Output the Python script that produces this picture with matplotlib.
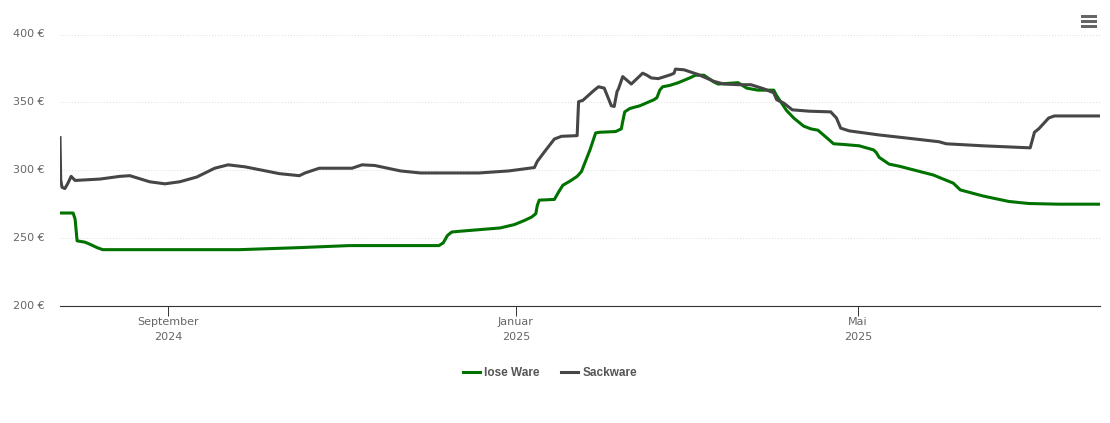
import matplotlib
matplotlib.use("Agg")
import matplotlib.pyplot as plt
from matplotlib.patches import Rectangle
from matplotlib.transforms import ScaledTranslation
import pandas as pd

START = pd.Timestamp("2024-07-25")

# days since START, price in euro
lose_days = [0, 4.6, 5.3, 6, 8.8, 10.5, 13, 15, 63, 84, 101.5, 133, 134.5, 136, 137.5, 140, 154.5,
             159.5, 163, 165.5, 167, 167.5, 168.2, 173.5, 175, 176.5, 179, 181.5, 183, 186, 188, 189.5, 195, 197, 197.5, 198.2,
             200, 203.5, 208.5, 209.5, 210.5, 211.5, 214, 217, 221, 223, 226, 229.5, 231, 238, 241,
             245, 250.5, 251.5, 255, 257.5, 261, 263.5, 266, 268.5, 271.5, 275, 280.5, 285.5, 286.5, 287.5,
             291, 294.5, 306.5, 313.5, 316, 324, 333, 340, 350.5, 364.5]
lose_vals = [268.5, 268.5, 264, 248, 247, 245.5, 243, 241.5, 241.5, 243, 244.5, 244.5, 246.5, 252, 254.5, 255, 257.5,
             260, 263, 265.5, 268, 274, 278, 278.5, 284, 289, 292, 295.5, 299, 315, 327.5, 328, 328.5, 330.5, 336, 343,
             345.5, 347.5, 352, 353.5, 359, 361.5, 362.5, 364.5, 368, 370, 370, 365, 363.5, 364.5, 360.5,
             359, 359, 355, 344, 338.5, 332.5, 330.5, 329.5, 325, 319.5, 319, 318, 315, 313, 309.5,
             304.5, 303, 296.5, 290.5, 285.5, 281, 277, 275.5, 275, 275]

sack_days = [0, 0.25, 0.7, 1.7, 2.8, 3.9, 5.3, 14, 21, 24.5, 31.5, 36.8, 42, 48, 54.3, 59, 65,
             77, 84, 86, 91, 102.5, 106, 110.5, 119.5, 126.5, 147, 157.5, 166.5, 167.5, 170,
             173.5, 176, 181.5, 182, 183.5, 187.5, 189, 191, 193.5, 194.5, 195.5, 196, 197.5,
             200.5, 204.5, 206, 207.5, 210, 214.5, 215.5, 216, 219, 224, 229.5, 233, 238.5,
             242.5, 247, 250.5, 251.5, 254, 257, 263, 270.5, 272.5, 274, 277, 287.5, 296,
             308.5, 311, 324, 340.5, 342, 343.5, 347, 349, 364.5]
sack_vals = [324, 293, 287.5, 286.5, 290.5, 295.5, 292.5, 293.5, 295.5, 296, 291.5, 290, 291.5, 295, 301.5, 304, 302.5,
             297.5, 296, 298, 301.5, 301.5, 304, 303.5, 299.5, 298, 298, 299.5, 302, 306.5, 313.5,
             323, 325, 325.5, 350.5, 351.5, 359, 361.5, 360.5, 347.5, 347, 358, 360, 369,
             363.5, 371.5, 370, 368, 367.5, 370.5, 371.5, 374.5, 374, 370.5, 365.5, 363.5, 363,
             363, 360, 357, 352, 349.5, 344.5, 343.5, 343, 338.5, 331, 329, 326, 324,
             321, 319.5, 318, 316.5, 328, 330.5, 338.5, 340, 340]

y_ticks = [200, 250, 300, 350, 400]
x_ticks = ["2024-09-01", "2025-01-01", "2025-05-01"]
x_labels = ["September\n2024", "Januar\n2025", "Mai\n2025"]

lose_x = START + pd.to_timedelta(lose_days, unit="D")
sack_x = START + pd.to_timedelta(sack_days, unit="D")

W, H = 1110, 423
fig = plt.figure(figsize=(W / 100, H / 100), dpi=100)
ax = fig.add_axes([60 / W, 1 - 306 / H, 1040 / W, 271.5 / H])

ax.plot(lose_x, lose_vals, color="#007200", lw=2.2, label="lose Ware", solid_joinstyle="round")
ax.plot(sack_x, sack_vals, color="#464646", lw=2.2, label="Sackware", solid_joinstyle="round")

ax.set_xlim(START, START + pd.Timedelta(days=365))
ax.set_ylim(200, 400)

for s in ["top", "left", "right"]:
    ax.spines[s].set_visible(False)
ax.spines["bottom"].set_color("#333333")
ax.spines["bottom"].set_linewidth(0.8)

ax.set_yticks(y_ticks)
ax.set_yticklabels([f"{v} €" for v in y_ticks])
ax.tick_params(axis="y", length=0, pad=11, labelsize=8, labelcolor="#666666")
# labels sit a bit above their grid lines in the original
for lab in ax.get_yticklabels():
    lab.set_transform(lab.get_transform() + ScaledTranslation(0, 1 / 72, fig.dpi_scale_trans))
ax.grid(axis="y", color="#dcdcdc", lw=0.7, ls=(0, (1, 2)))
ax.set_axisbelow(True)

ax.set_xticks(pd.to_datetime(x_ticks))
ax.set_xticklabels(x_labels, linespacing=1.55)
ax.tick_params(axis="x", length=7, width=0.7, color="#333333", pad=1, labelsize=8, labelcolor="#666666")

leg = ax.legend(loc="center", bbox_to_anchor=(550 / W, 1 - 373 / H), bbox_transform=fig.transFigure,
                ncol=2, frameon=False, handlelength=1.4, handletextpad=0.4, columnspacing=1.8,
                prop={"family": "Liberation Sans", "size": 8.5, "weight": "bold"})
for t in leg.get_texts():
    t.set_color("#555555")

# menu icon
for top in [15, 20, 25]:
    fig.add_artist(Rectangle((1081 / W, 1 - (top + 3.5) / H), 16 / W, 3.5 / H,
                             transform=fig.transFigure, color="#666666", lw=0))

fig.savefig("out.png", dpi=100)
